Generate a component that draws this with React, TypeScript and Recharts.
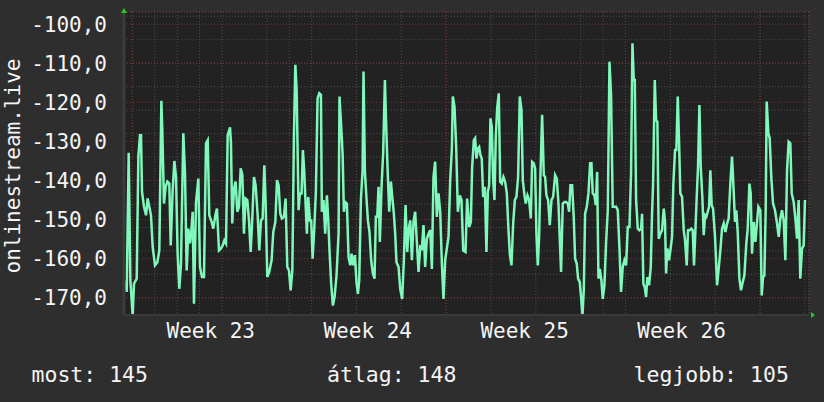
import {
  LineChart,
  Line,
  XAxis,
  YAxis,
  CartesianGrid,
  ReferenceDot,
  Customized,
} from "recharts";

// hours since the start of week 23
const hours = [
  -7.8, -6.0, -3.9, -2.1, 0.4, 1.8, 4.7, 6.5, 8.2, 9.3, 10.4, 12.5, 14.7, 16.4, 18.2, 20.0,
  21.8, 24.3, 26.8, 28.9, 31.1, 32.1, 33.9, 35.7, 37.5, 39.6, 41.1, 43.2, 45.0, 46.8, 48.5,
  50.3, 52.1, 54.6, 56.4, 58.2, 60.0, 61.7, 63.2, 64.6, 66.0, 68.2, 70.7, 72.4, 74.6, 76.7,
  78.9, 80.7, 82.4, 84.9, 86.7, 88.9, 90.6, 92.8, 94.9, 96.7, 98.5, 100.3, 102.1, 104.6,
  105.6, 107.0, 108.8, 110.6, 112.4, 114.2, 116.0, 117.8, 119.5, 121.3, 123.1, 124.9, 126.7,
  128.5, 130.2, 132.0, 134.2, 135.9, 137.7, 139.5, 141.3, 142.7, 144.5, 146.6, 149.1, 150.9,
  153.1, 154.9, 156.6, 158.4, 160.2, 162.3, 164.1, 165.9, 167.7, 169.5, 171.3, 173.0, 174.5,
  175.9, 178.0, 179.4, 181.2, 182.6, 184.0, 185.5, 186.9, 188.3, 190.1, 191.5, 193.0, 194.7,
  196.5, 198.3, 200.1, 201.9, 202.9, 204.7, 206.5, 208.3, 209.7, 211.1, 212.9, 214.7, 216.5,
  218.6, 220.8, 221.8, 223.6, 225.1, 226.5, 227.9, 229.7, 231.5, 233.3, 234.7, 236.5, 238.3,
  240.0, 241.5, 242.9, 244.7, 246.5, 247.5, 249.0, 250.7, 252.2, 253.9, 255.7, 257.5, 259.3,
  260.7, 262.2, 263.6, 265.0, 266.8, 268.6, 270.4, 271.8, 273.2, 275.0, 276.8, 278.6, 280.0,
  281.4, 282.8, 285.0, 286.8, 288.9, 290.7, 292.5, 294.3, 295.7, 297.5, 299.3, 301.0, 302.8,
  304.6, 306.4, 308.2, 310.0, 311.7, 313.5, 315.3, 317.1, 318.9, 320.7, 322.4, 324.2, 326.0,
  327.8, 329.6, 331.4, 333.1, 334.9, 336.7, 338.5, 340.3, 342.1, 343.1, 344.9, 346.7, 348.5,
  350.6, 352.4, 354.2, 356.7, 358.4, 360.6, 362.4, 363.8, 365.6, 367.0, 368.4, 369.9, 371.3,
  372.7, 374.1, 375.6, 377.4, 379.1, 380.6, 382.0, 383.4, 384.8, 386.3, 387.7, 389.1, 390.6,
  392.3, 393.8, 395.5, 397.3, 399.1, 400.9, 402.7, 404.1, 405.9, 407.7, 409.5, 411.2, 413.0,
  414.8, 416.6, 418.0, 419.8, 421.2, 423.0, 424.8, 426.6, 428.0, 429.8, 431.2, 432.6, 434.1,
  435.5, 436.9, 438.7, 440.5, 441.9, 443.3, 445.1, 446.9, 448.7, 450.5, 452.6, 454.4, 456.2,
  457.6, 459.0, 460.8, 462.6, 464.4, 466.2, 467.6, 469.0, 470.8, 472.6, 474.0, 475.8, 477.2,
  479.0, 480.4, 481.9, 483.3, 484.7, 486.5, 488.3, 490.1, 491.5, 492.9, 494.7, 496.1, 497.6,
  499.0, 500.4, 502.2, 503.6, 505.4, 507.2, 509.0, 510.8, 512.5, 514.3, 516.1, 517.9, 519.7,
  521.5, 523.2, 525.0, 526.8, 528.6, 530.4, 532.2, 533.9, 535.4, 536.8, 537.9, 539.3, 541.1,
  542.8, 544.6, 545.7, 547.1, 548.6, 550.0, 551.4, 553.2, 555.0, 556.4, 557.5, 559.3, 560.7,
  562.1, 563.5, 565.3, 567.1, 568.9, 570.3, 571.4, 572.8, 574.6, 576.0, 577.8, 579.2, 581.0,
  582.4, 583.9, 585.3, 586.7, 588.5, 590.3, 591.7, 593.5, 594.9, 596.7, 598.5, 599.9, 601.3,
  602.8, 604.2, 605.6, 607.1, 608.5, 610.3, 611.7, 613.1, 614.5, 616.0, 617.4, 618.8, 620.2,
  621.7, 623.8, 626.0, 627.7, 629.5, 631.3, 633.1, 634.9, 636.7, 638.4, 640.2, 642.0, 643.4,
  645.2, 646.6, 648.1, 649.9, 651.6, 653.4, 655.2, 657.3, 658.8, 660.6, 662.0, 663.4, 665.2,
  667.0, 668.8, 670.2, 672.3, 673.8, 675.2, 676.6, 678.0, 679.1, 680.9, 682.3, 684.1, 685.9,
  688.0, 690.2, 692.0, 693.7, 695.5, 697.3, 699.1, 700.9, 702.6, 704.4, 705.9, 708.0, 709.8,
  711.6, 713.3, 715.1, 716.9, 718.7, 720.1,
];

const listeners = [
  -165.6, -168.5, -132.9, -165.6, -174.5, -166.4, -165.1, -133.8, -128.4, -128.4, -142.9,
  -146.7, -148.9, -144.6, -146.7, -148.9, -157.0, -161.7, -160.9, -157.9, -119.6, -127.1,
  -145.9, -141.6, -140.3, -140.8, -156.6, -142.5, -135.0, -139.1, -158.7, -167.7, -161.3,
  -127.9, -138.2, -163.0, -152.3, -156.1, -152.7, -148.0, -171.5, -145.5, -139.5, -162.1,
  -164.7, -164.7, -130.5, -129.7, -148.9, -150.6, -152.3, -148.9, -147.2, -157.9, -157.4,
  -156.6, -155.3, -156.1, -128.4, -126.4, -130.5, -151.0, -142.0, -140.3, -148.0, -146.7,
  -136.9, -138.6, -153.6, -144.6, -145.0, -150.2, -158.3, -149.3, -139.1, -141.2, -148.9,
  -157.9, -150.2, -149.7, -136.1, -145.5, -164.7, -163.4, -160.4, -153.2, -150.6, -139.9,
  -141.2, -148.5, -149.7, -149.3, -144.6, -162.1, -163.0, -168.1, -163.0, -128.8, -110.4,
  -116.8, -147.6, -143.3, -143.3, -132.2, -137.4, -145.9, -153.6, -144.2, -150.2, -150.2,
  -160.0, -152.7, -142.9, -119.0, -117.7, -118.1, -148.0, -145.0, -153.6, -143.8, -149.7,
  -157.9, -166.4, -172.0, -169.8, -164.3, -153.6, -118.5, -126.2, -133.1, -148.0, -145.5,
  -145.9, -159.6, -161.7, -158.7, -161.7, -159.1, -166.0, -169.0, -165.6, -145.0, -137.4,
  -112.1, -137.8, -144.6, -150.2, -153.2, -160.4, -163.8, -165.1, -149.3, -149.3, -141.6,
  -155.7, -141.6, -132.6, -114.3, -126.2, -136.5, -148.0, -140.3, -145.0, -148.5, -153.6,
  -160.9, -162.1, -167.7, -170.3, -160.4, -146.3, -158.3, -152.7, -150.2, -160.4, -150.6,
  -148.0, -155.7, -163.4, -157.0, -157.4, -151.4, -162.1, -154.9, -153.6, -152.7, -162.6,
  -139.1, -135.2, -149.3, -143.3, -148.0, -161.3, -170.3, -160.4, -157.4, -154.4, -139.9,
  -131.8, -118.5, -121.1, -131.4, -148.0, -143.8, -145.0, -157.9, -158.3, -144.6, -151.9,
  -150.6, -136.5, -129.7, -129.2, -134.4, -131.8, -131.4, -133.5, -134.4, -144.2, -141.6,
  -158.3, -142.9, -141.2, -124.1, -126.2, -139.9, -145.0, -128.8, -121.5, -117.7, -140.3,
  -140.8, -139.1, -140.3, -143.3, -152.7, -158.7, -161.7, -151.0, -145.0, -144.2, -139.1,
  -118.5, -121.9, -139.9, -143.8, -145.9, -143.8, -145.0, -149.7, -135.2, -135.6, -136.9,
  -153.6, -161.7, -154.4, -138.6, -123.2, -138.6, -139.1, -143.8, -145.0, -151.4, -145.0,
  -144.2, -138.6, -139.5, -145.9, -154.9, -163.4, -145.9, -145.5, -145.5, -145.9, -148.0,
  -141.2, -141.2, -149.7, -160.0, -161.3, -165.1, -166.0, -169.8, -174.5, -168.1, -148.5,
  -146.7, -143.3, -135.6, -135.6, -143.3, -143.8, -146.3, -137.8, -165.1, -162.6, -165.6,
  -170.3, -166.8, -155.7, -147.6, -109.6, -118.1, -146.7, -146.7, -146.7, -147.6, -157.4,
  -168.5, -162.1, -160.4, -161.7, -151.9, -151.9, -138.2, -104.9, -114.3, -114.3, -145.0,
  -152.3, -152.7, -152.3, -148.5, -166.4, -167.3, -169.8, -164.7, -166.8, -162.1, -148.5,
  -140.8, -114.3, -124.5, -125.0, -154.9, -153.6, -152.7, -147.2, -150.6, -163.8, -157.4,
  -160.4, -157.9, -154.4, -140.8, -132.2, -132.2, -118.5, -130.1, -143.3, -144.2, -152.7,
  -155.3, -161.7, -152.7, -152.7, -152.3, -152.7, -161.7, -152.7, -144.2, -136.5, -120.7,
  -136.5, -144.6, -154.0, -148.9, -149.3, -148.0, -146.7, -137.4, -146.3, -147.2, -154.4,
  -166.8, -162.6, -157.9, -152.3, -151.0, -153.2, -151.0, -149.7, -140.8, -133.9, -140.8,
  -150.6, -147.6, -153.2, -165.1, -168.1, -166.0, -164.3, -156.1, -152.3, -140.8, -143.3,
  -158.7, -150.6, -155.7, -150.6, -146.7, -147.6, -169.4, -164.7, -164.3, -148.0, -119.8,
  -127.9, -129.2, -139.5, -145.9, -147.6, -151.0, -154.4, -149.7, -147.6, -150.2, -160.4,
  -137.4, -130.1, -130.5, -143.3, -145.5, -149.7, -154.9, -145.0, -165.1, -157.4, -156.6,
  -145.0,
];

const yTicks = [-170, -160, -150, -140, -130, -120, -110, -100];
const yMinorTicks = Array.from({ length: 39 }, (_, i) => -174 + i * 2);
const dayTicks = Array.from({ length: 31 }, (_, i) => i * 24);
const weekTicks = [0, 168, 336, 504, 672];
const weekMidTicks = [84, 252, 420, 588];
const weekLabels = ["Week 23", "Week 24", "Week 25", "Week 26"];

const summaryLabels = ["most", "átlag", "legjobb"];
const summaryValues = [145, 148, 105];

const xDomain: [number, number] = [-8.9, 724.4];
const yDomain: [number, number] = [-174.4, -96.9];

const data = hours.map((h, i) => ({ h, v: listeners[i] }));

const FONT = "DejaVu Sans Mono";
const TEXT = "#f4f4f4";
const summaryX = [31.5, 327, 633.5];

function Overlay() {
  return (
    <g fontFamily={FONT} fill={TEXT}>
      <text
        transform="translate(20,166) rotate(-90)"
        textAnchor="middle"
        fontSize={21}
      >
        onlinestream.live
      </text>
      {summaryLabels.map((label, i) => (
        <text key={label} x={summaryX[i]} y={381.5} fontSize={21.5}>
          {`${label}: ${summaryValues[i]}`}
        </text>
      ))}
    </g>
  );
}

const upArrow = (props: any) => (
  <polygon
    points={`${props.cx - 3},${props.cy + 1} ${props.cx + 3},${props.cy + 1} ${props.cx},${props.cy - 4}`}
    fill="#22cc22"
  />
);
const rightArrow = (props: any) => (
  <polygon
    points={`${props.cx + 2},${props.cy - 3} ${props.cx + 2},${props.cy + 3} ${props.cx + 6},${props.cy}`}
    fill="#22cc22"
  />
);

export default function App() {
  return (
    <div style={{ width: 824, height: 402, background: "#2e2e2e" }}>
      <style>{`body{margin:0;background:#2e2e2e}`}</style>
      <LineChart
        width={824}
        height={402}
        data={data}
        margin={{ top: 12, right: 15, bottom: 57, left: 0 }}
      >
        <XAxis xAxisId="day" type="number" dataKey="h" domain={xDomain} allowDataOverflow ticks={dayTicks} height={0} hide />
        <XAxis xAxisId="week" type="number" dataKey="h" domain={xDomain} allowDataOverflow ticks={weekTicks} height={0} hide />
        <XAxis
          xAxisId="main"
          dataKey="h"
          type="number"
          domain={xDomain}
          allowDataOverflow
          ticks={weekMidTicks}
          tickFormatter={(t: number) => weekLabels[weekMidTicks.indexOf(t)]}
          interval={0}
          height={30}
          tickLine={false}
          tickSize={0}
          tickMargin={8}
          axisLine={{ stroke: "#3a3a3a", strokeWidth: 2 }}
          tick={{ fill: TEXT, fontSize: 21, fontFamily: FONT }}
        />
        <YAxis yAxisId="minor" type="number" domain={yDomain} allowDataOverflow ticks={yMinorTicks} width={0} hide />
        <YAxis
          yAxisId="main"
          type="number"
          domain={yDomain}
          allowDataOverflow
          ticks={yTicks}
          interval={0}
          width={124}
          tickLine={false}
          tickSize={0}
          tickMargin={17}
          axisLine={{ stroke: "#3c3c3c", strokeWidth: 3 }}
          tickFormatter={(v: number) => v.toFixed(1).replace(".", ",")}
          tick={{ fill: TEXT, fontSize: 21, fontFamily: FONT }}
        />
        <CartesianGrid
          xAxisId="day"
          yAxisId="minor"
          fill="#222222"
          stroke="#4e4e4e"
          strokeDasharray="1 2"
        />
        <CartesianGrid
          xAxisId="week"
          yAxisId="main"
          stroke="#7a3434"
          strokeDasharray="1 2"
        />
        <Line
          xAxisId="main"
          yAxisId="main"
          dataKey="v"
          type="linear"
          stroke="#80f8bb"
          strokeWidth={2.5}
          dot={false}
          isAnimationActive={false}
        />
        <ReferenceDot
          xAxisId="main"
          yAxisId="main"
          x={xDomain[0]}
          y={yDomain[1]}
          ifOverflow="visible"
          shape={upArrow}
        />
        <ReferenceDot
          xAxisId="main"
          yAxisId="main"
          x={xDomain[1]}
          y={yDomain[0]}
          ifOverflow="visible"
          shape={rightArrow}
        />
        <Customized component={Overlay} />
      </LineChart>
    </div>
  );
}
